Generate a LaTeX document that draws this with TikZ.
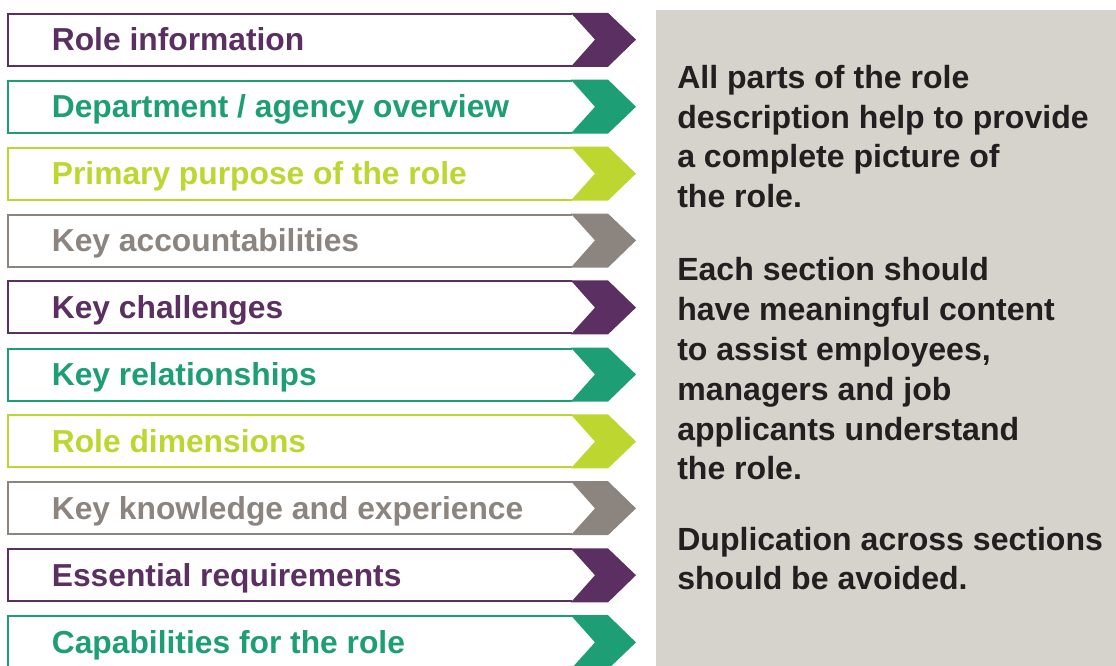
\documentclass[tikz,border=0pt]{standalone}
\usepackage{fontspec}
\setmainfont{Liberation Sans}
\usetikzlibrary{calc}
\definecolor{rdPurple}{RGB}{91,47,98}
\definecolor{rdTeal}{RGB}{29,158,117}
\definecolor{rdLime}{RGB}{189,214,48}
\definecolor{rdTaupe}{RGB}{140,133,127}
\definecolor{rdPanel}{RGB}{214,211,204}
\definecolor{rdInk}{RGB}{35,31,32}

\begin{document}
\begin{tikzpicture}[rowlabel/.style={anchor=base west,inner sep=0pt,font=\fontsize{22.6}{27}\selectfont\bfseries},
	paneltext/.style={anchor=base west,inner sep=0pt,align=left,text=rdInk,font=\fontsize{22.8}{28.45}\selectfont\bfseries}]
\useasboundingbox (0,0) rectangle (27.9,16.65);
\fill [rdPanel] (16.4,0) rectangle (27.9,16.4);
% rows
\draw [line width=1.4pt, rdPurple] (14.3,16.305)-- (0.2,16.305)-- (0.2,15.005)-- (14.3,15.005);
\fill [rdPurple] (14.27,16.33)-- (15.2,16.33)-- (15.9,15.66)-- (15.2,14.98)-- (14.27,14.98)-- (14.875,15.66)-- cycle;
\node [rowlabel, rdPurple] (roleinfo) at (1.29,15.38) {Role information};
\draw [line width=1.4pt, rdTeal] (14.3,14.635)-- (0.2,14.635)-- (0.2,13.335)-- (14.3,13.335);
\fill [rdTeal] (14.27,14.66)-- (15.2,14.66)-- (15.9,13.98)-- (15.2,13.31)-- (14.27,13.31)-- (14.875,13.98)-- cycle;
\node [rowlabel, rdTeal] (overview) at (1.29,13.70) {Department / agency overview};
\draw [line width=1.4pt, rdLime] (14.3,12.96)-- (0.2,12.96)-- (0.2,11.66)-- (14.3,11.66);
\fill [rdLime] (14.27,12.985)-- (15.2,12.985)-- (15.9,12.31)-- (15.2,11.635)-- (14.27,11.635)-- (14.875,12.31)-- cycle;
\node [rowlabel, rdLime] (purpose) at (1.29,12.03) {Primary purpose of the role};
\draw [line width=1.4pt, rdTaupe] (14.3,11.285)-- (0.2,11.285)-- (0.2,9.985)-- (14.3,9.985);
\fill [rdTaupe] (14.27,11.31)-- (15.2,11.31)-- (15.9,10.64)-- (15.2,9.96)-- (14.27,9.96)-- (14.875,10.64)-- cycle;
\node [rowlabel, rdTaupe] (accountab) at (1.29,10.36) {Key accountabilities};
\draw [line width=1.4pt, rdPurple] (14.3,9.615)-- (0.2,9.615)-- (0.2,8.315)-- (14.3,8.315);
\fill [rdPurple] (14.27,9.64)-- (15.2,9.64)-- (15.9,8.96)-- (15.2,8.29)-- (14.27,8.29)-- (14.875,8.96)-- cycle;
\node [rowlabel, rdPurple] (challenges) at (1.29,8.68) {Key challenges};
\draw [line width=1.4pt, rdTeal] (14.3,7.935)-- (0.2,7.935)-- (0.2,6.635)-- (14.3,6.635);
\fill [rdTeal] (14.27,7.96)-- (15.2,7.96)-- (15.9,7.29)-- (15.2,6.61)-- (14.27,6.61)-- (14.875,7.29)-- cycle;
\node [rowlabel, rdTeal] (relations) at (1.29,7.01) {Key relationships};
\draw [line width=1.4pt, rdLime] (14.3,6.265)-- (0.2,6.265)-- (0.2,4.965)-- (14.3,4.965);
\fill [rdLime] (14.27,6.29)-- (15.2,6.29)-- (15.9,5.61)-- (15.2,4.94)-- (14.27,4.94)-- (14.875,5.61)-- cycle;
\node [rowlabel, rdLime] (dimensions) at (1.29,5.33) {Role dimensions};
\draw [line width=1.4pt, rdTaupe] (14.3,4.595)-- (0.2,4.595)-- (0.2,3.295)-- (14.3,3.295);
\fill [rdTaupe] (14.27,4.62)-- (15.2,4.62)-- (15.9,3.94)-- (15.2,3.27)-- (14.27,3.27)-- (14.875,3.94)-- cycle;
\node [rowlabel, rdTaupe] (knowledge) at (1.29,3.66) {Key knowledge and experience};
\draw [line width=1.4pt, rdPurple] (14.3,2.915)-- (0.2,2.915)-- (0.2,1.615)-- (14.3,1.615);
\fill [rdPurple] (14.27,2.94)-- (15.2,2.94)-- (15.9,2.27)-- (15.2,1.59)-- (14.27,1.59)-- (14.875,2.27)-- cycle;
\node [rowlabel, rdPurple] (essential) at (1.29,1.99) {Essential requirements};
\draw [line width=1.4pt, rdTeal] (14.3,1.245)-- (0.2,1.245)-- (0.2,-0.055)-- (14.3,-0.055);
\fill [rdTeal] (14.27,1.27)-- (15.2,1.27)-- (15.9,0.59)-- (15.2,-0.08)-- (14.27,-0.08)-- (14.875,0.59)-- cycle;
\node [rowlabel, rdTeal] (capab) at (1.29,0.31) {Capabilities for the role};
% panel text, anchored at the last line
\node [paneltext] (allparts) at (16.925,11.45) {All parts of the role\\description help to provide\\a complete picture of\\the role.};
\node [paneltext] (eachsect) at (16.925,4.65) {Each section should\\have meaningful content\\to assist employees,\\managers and job\\applicants understand\\the role.};
\node [paneltext] (duplic) at (16.925,1.9) {Duplication across sections\\should be avoided.};
\end{tikzpicture}
\end{document}
